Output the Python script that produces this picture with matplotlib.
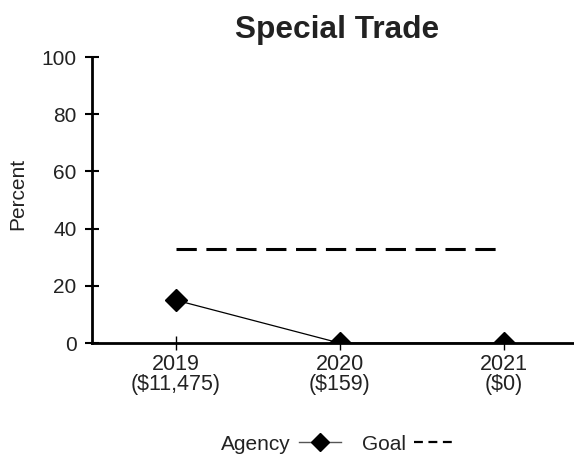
import matplotlib.pyplot as plt
from matplotlib.lines import Line2D

plt.rcParams['font.family'] = ['Liberation Sans', 'DejaVu Sans']

years = ["2019\n($11,475)", "2020\n($159)", "2021\n($0)"]
agency = [15, 0, 0]
goal = [33, 33, 33]

fig = plt.figure(figsize=(5.74, 4.58), dpi=100)
ax = fig.add_axes([0.160, 0.251, 0.840, 0.6245])

x = list(range(len(years)))
ax.plot(x, agency, color='black', lw=0.9, marker='D', ms=11, mfc='black', mec='black', zorder=3)
ax.plot(x, goal, color='black', lw=2.2, dashes=(6.64, 3.14), zorder=2)

ax.set_xlim(-0.512, 2.43)
ax.set_ylim(0, 100)
ax.set_yticks([0, 20, 40, 60, 80, 100])
ax.set_xticks(x)
ax.set_xticklabels(years, fontsize=15.5, color='#222222', linespacing=0.95)
ax.tick_params(axis='y', labelsize=15, labelcolor='#222222', direction='inout', length=10, width=1.5, pad=6)
ax.tick_params(axis='x', direction='inout', length=10, width=1, pad=3)

for s in ['top', 'right']:
    ax.spines[s].set_visible(False)
ax.spines['left'].set_linewidth(2)
ax.spines['bottom'].set_linewidth(2)

ax.set_ylabel("Percent", fontsize=15, color='#222222')
ax.yaxis.set_label_coords(-0.133, 0.52)
ax.set_title("Special Trade", fontsize=22.8, fontweight='bold', color='#222222', pad=14, x=0.508)

h1 = Line2D([], [], color='#555555', lw=1, marker='D', ms=9, mfc='black', mec='black')
h2 = Line2D([], [], color='black', lw=1.6, dashes=(4, 2.5))
fig.legend([h1, h2], ["Agency", "Goal"], loc='center', bbox_to_anchor=(0.59, 0.03),
           ncol=2, frameon=False, markerfirst=False, fontsize=15, handlelength=2.0,
           columnspacing=1.0, handletextpad=0.4, labelcolor='#222222')

fig.savefig("out.png", dpi=100)
